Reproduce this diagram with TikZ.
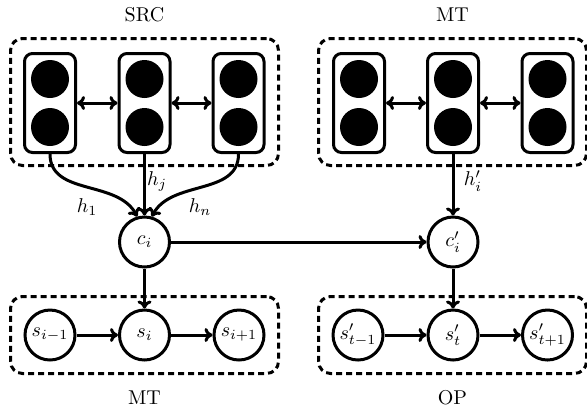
\documentclass[tikz,border=0pt]{standalone}
\usetikzlibrary{arrows.meta}
\begin{document}
\begin{tikzpicture}[x=0.5pt,y=-0.5pt,line width=1.5pt,
  dbox/.style={draw,dash pattern=on 3pt off 2pt,rounded corners=6pt,minimum width=134pt,inner sep=0pt},
  cell/.style={draw,rounded corners=4pt,minimum width=25.5pt,minimum height=49.5pt,inner sep=0pt},
  dot/.style={circle,fill=black,minimum size=19pt,inner sep=0pt},
  st/.style={circle,draw,minimum size=25pt,inner sep=0pt},
  arr/.style={-{To[length=4pt,width=7pt]}},
  arrb/.style={{To[length=4pt,width=7pt]}-{To[length=4pt,width=7pt]}},
  lab/.style={inner sep=0pt}]
\useasboundingbox (0,0) rectangle (587,409);
% top boxes
\node[dbox,minimum height=63.5pt] (srcbox) at (144.5,102) {};
\node[dbox,minimum height=63.5pt] (mtbox) at (452.5,102) {};
\node[lab] (srclab) at (144.5,15) {SRC};
\node[lab] (mtlab) at (452.5,15) {MT};
% cells
\foreach \n/\x in {a1/50,a2/144.5,a3/238.5,b1/359,b2/453,b3/547.5}{
  \node[cell] (\n) at (\x,103) {};
  \node[dot] (\n u) at (\x,79) {};
  \node[dot] (\n d) at (\x,127) {};
}
\draw[arrb] (a1) -- (a2);
\draw[arrb] (a2) -- (a3);
\draw[arrb] (b1) -- (b2);
\draw[arrb] (b2) -- (b3);
% context nodes
\node[st] (c) at (144.5,242) {$c_i$};
\node[st] (cp) at (453,242) {$c'_i$};
\draw[arr] (a1.south) to[out=-90,in=118] (c.106);
\draw[arr] (a2.south) -- (c);
\draw[arr] (a3.south) to[out=-90,in=62] (c.74);
\draw[arr] (b2.south) -- (cp);
\draw[arr] (c) -- (cp);
\node[lab] (h1) at (87,207) {$h_1$};
\node[lab] (hj) at (157,181) {$h_j$};
\node[lab] (hn) at (200,207) {$h_n$};
\node[lab] (hip) at (473,181) {$h'_i$};
% bottom boxes
\node[dbox,minimum height=38.5pt] (mtbot) at (144.5,335) {};
\node[dbox,minimum height=38.5pt] (opbot) at (452.5,335) {};
\node[lab] (mtblab) at (144.5,398) {MT};
\node[lab] (oplab) at (452.5,398) {OP};
\node[st] (s1) at (50,335) {$s_{i-1}$};
\node[st] (s2) at (144.5,335) {$s_i$};
\node[st] (s3) at (239,335) {$s_{i+1}$};
\node[st] (t1) at (358,335) {$s'_{t-1}$};
\node[st] (t2) at (453,335) {$s'_t$};
\node[st] (t3) at (547.5,335) {$s'_{t+1}$};
\draw[arr] (s1) -- (s2);
\draw[arr] (s2) -- (s3);
\draw[arr] (t1) -- (t2);
\draw[arr] (t2) -- (t3);
\draw[arr] (c) -- (s2);
\draw[arr] (cp) -- (t2);
\end{tikzpicture}
\end{document}
